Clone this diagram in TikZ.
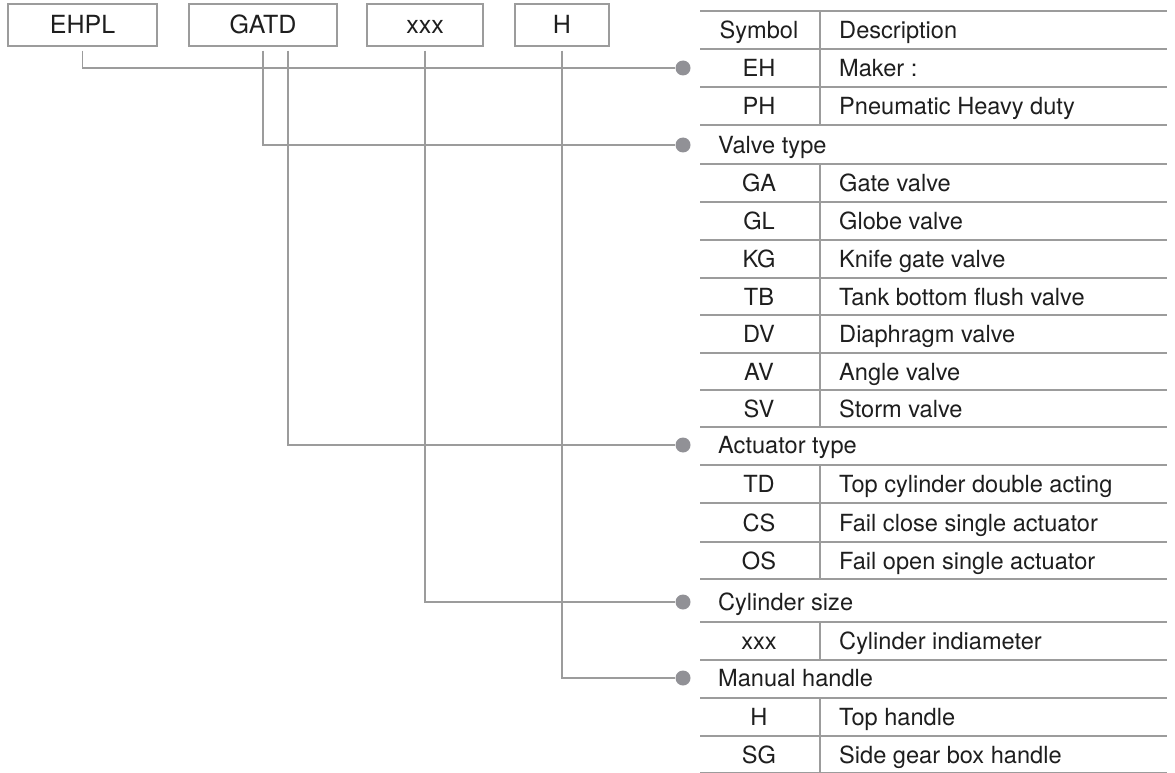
\documentclass[tikz,border=0pt]{standalone}
\usepackage{fontspec}
\setmainfont{TeX Gyre Heros}
\usepackage{xcolor}
\usepackage{tikz}
\definecolor{rulegray}{HTML}{9C9C9C}
\definecolor{dotgray}{HTML}{919196}
\definecolor{inkgray}{HTML}{1E1E1E}

\begin{document}
\begin{tikzpicture}[x=1pt,y=-1pt,
    codebox/.style={draw=rulegray,line width=1.5pt,minimum width=#1,minimum height=42pt,inner sep=0pt,text=inkgray,font=\fontsize{25}{29}\selectfont,text height=18pt,text depth=0pt},
    cell/.style={inner sep=0pt,text=inkgray,font=\fontsize{23.6}{28}\selectfont,text height=17pt,text depth=0pt},
    symtext/.style={cell,anchor=center},
    desctext/.style={cell,anchor=west},
    pindot/.style={circle,fill=dotgray,inner sep=0pt,minimum size=15pt},
    wire/.style={draw=rulegray,line width=1.4pt},
    thinrule/.style={draw=rulegray,line width=1.3pt},
    thickrule/.style={draw=rulegray,line width=2.4pt}]
  \useasboundingbox (0,0) rectangle (1175,773);
  \node[codebox=149pt] (ehpl) at (82.5,25) {EHPL};
  \node[codebox=148pt] (gatd) at (263,25) {GATD};
  \node[codebox=116pt] (xxx) at (425,25) {xxx};
  \node[codebox=94pt] (hand) at (562,25) {H};
  \foreach \y in {11,49,125,427,579,660}
    \draw[thickrule] (700,\y) -- (1167,\y);
  \foreach \y in {87,164,202,240,278,315,353,390,465,503,542,622,698,736,773}
    \draw[thinrule] (700,\y) -- (1167,\y);
  \foreach \a/\b in {11/125,164/427,465/579,622/660,698/773}
    \draw[thinrule] (820,\a) -- (820,\b);
  \foreach \y/\s/\d [count=\i] in {30/Symbol/Description,68/EH/Maker :,106/PH/Pneumatic Heavy duty,
      183/GA/Gate valve,221/GL/Globe valve,259/KG/Knife gate valve,296.5/TB/Tank bottom flush valve,
      334/DV/Diaphragm valve,371.5/AV/Angle valve,408.5/SV/Storm valve,
      484/TD/Top cylinder double acting,522.5/CS/Fail close single actuator,560.5/OS/Fail open single actuator,
      641/xxx/Cylinder indiameter,717/H/Top handle,754.5/SG/Side gear box handle}{
    \node[symtext] (sym\i) at (759,\y) {\s};
    \node[desctext] (desc\i) at (839,\y) {\d};
  }
  \node[desctext] (valvetype) at (718,145) {Valve type};
  \node[desctext] (actuatortype) at (718,445) {Actuator type};
  \node[desctext] (cylsize) at (718,602) {Cylinder size};
  \node[desctext] (manual) at (718,678) {Manual handle};
  \node[pindot] (dotmaker) at (683,68) {};
  \node[pindot] (dotvalve) at (683,145) {};
  \node[pindot] (dotact) at (683,445) {};
  \node[pindot] (dotcyl) at (683,602) {};
  \node[pindot] (dotmanual) at (683,678) {};
  \draw[wire] ([yshift=-4pt]ehpl.south) |- (dotmaker);
  \draw[wire] ([yshift=-4pt]gatd.south) |- (dotvalve);
  \draw[wire] ([xshift=25pt,yshift=-4pt]gatd.south) |- (dotact);
  \draw[wire] ([yshift=-4pt]xxx.south) |- (dotcyl);
  \draw[wire] ([yshift=-4pt]hand.south) |- (dotmanual);
\end{tikzpicture}
\end{document}
